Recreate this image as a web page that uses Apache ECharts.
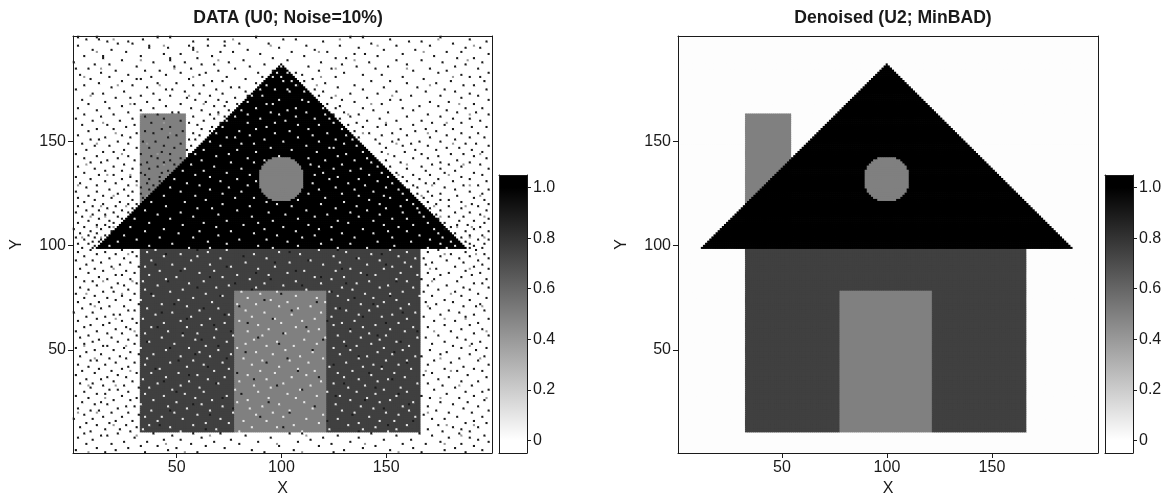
<!DOCTYPE html>
<html><head><meta charset="utf-8">
<style>html,body{margin:0;padding:0;background:#fff}#c{width:1169px;height:493px}</style>
<script src="https://cdn.jsdelivr.net/npm/echarts@6/dist/echarts.min.js"></script>
</head><body><div id="c"></div>
<script>
const titles = ['DATA (U0; Noise=10%)', 'Denoised (U2; MinBAD)'];
const xTicks = [50, 100, 150];
const yTicks = [50, 100, 150];
const barTicks = [0, 0.2, 0.4, 0.6, 0.8, 1.0];
const barLabels = ['0', '0.2', '0.4', '0.6', '0.8', '1.0'];
// [x0, x1, y0, y1, value]
const chimney = [33, 54, 100, 163, 0.5];
const body = [33, 166, 11, 98, 0.75];
const door = [78, 121, 11, 78, 0.5];
// [y, x0, x1]
const roofRows = [[99,12,188],[100,13,187],[101,14,186],[102,15,185],[103,16,184],[104,17,183],[105,18,182],[106,19,181],[107,20,180],[108,21,179],[109,22,178],[110,23,177],[111,24,176],[112,25,175],[113,26,174],[114,27,173],[115,28,172],[116,29,171],[117,30,170],[118,31,169],[119,32,168],[120,33,167],[121,34,166],[122,35,165],[123,36,164],[124,37,163],[125,38,162],[126,39,161],[127,40,160],[128,41,159],[129,42,158],[130,43,157],[131,44,156],[132,45,155],[133,46,154],[134,47,153],[135,48,152],[136,49,151],[137,50,150],[138,51,149],[139,52,148],[140,53,147],[141,54,146],[142,55,145],[143,56,144],[144,57,143],[145,58,142],[146,59,141],[147,60,140],[148,61,139],[149,62,138],[150,63,137],[151,64,136],[152,65,135],[153,66,134],[154,67,133],[155,68,132],[156,69,131],[157,70,130],[158,71,129],[159,72,128],[160,73,127],[161,74,126],[162,75,125],[163,76,124],[164,77,123],[165,78,122],[166,79,121],[167,80,120],[168,81,119],[169,82,118],[170,83,117],[171,84,116],[172,85,115],[173,86,114],[174,87,113],[175,88,112],[176,89,111],[177,90,110],[178,91,109],[179,92,108],[180,93,107],[181,94,106],[182,95,105],[183,96,104],[184,97,103],[185,98,102],[186,99,101],[187,100,100]];
const windowRows = [[122,96,104],[123,94,106],[124,93,107],[125,92,108],[126,91,109],[127,91,109],[128,90,110],[129,90,110],[130,90,110],[131,90,110],[132,90,110],[133,90,110],[134,90,110],[135,90,110],[136,90,110],[137,91,109],[138,91,109],[139,92,108],[140,93,107],[141,94,106],[142,96,104]];
const roofValue = 1, windowValue = 0.5, bgData = 0, bgDenoised = 0.008;
const darkValue = 0.9, midValue = 0.4, lightValue = 0.1;
// noise specks: [y, [x, ...]]
const darkSpecks = [[200,[3,12,41,47,88,133,139,176]],[199,[7,13,34,65,101,107,152,190]],[198,[17,27,58,73,120,161,167,198]],[197,[22,29,80,94,143,182]],[196,[3,37,56,65,73,112,128,155,171]],[195,[37,46,58,99,137,188,195]],[194,[10,19,58,84,116,149,164]],[193,[26,71,77,105,122,179,186]],[192,[44,52,90,135,140,158,199]],[191,[6,15,33,67,111,146,173]],[190,[15,47,60,96,126,131,184,192]],[189,[24,47,82,103,155,167]],[188,[1,39,54,75,119,142,177,196]],[187,[11,18,62,68,92,129,160,188]],[186,[31,49,85,113,136,151,183]],[185,[2,8,57,78,124,145,171,194]],[184,[21,35,42,70,96,118,163,179]],[183,[14,52,64,89,107,130,175,199]],[182,[4,27,45,61,110,139,148,186]],[181,[18,38,74,91,126,158,190,195]],[180,[9,31,33,56,83,115,168]],[179,[24,67,72,111,143,152,181,197]],[178,[13,41,50,88,121,160,174]],[177,[6,29,58,63,108,135,187,192]],[176,[19,36,76,80,127,149,165]],[175,[2,45,48,69,116,139,178,198]],[174,[25,54,83,120,155,169,183]],[173,[10,15,39,61,72,133,146,190]],[172,[33,47,66,84,118,162,176,194]],[171,[21,28,55,78,124,141,186]],[170,[5,42,59,70,129,152,157,199]],[169,[16,36,64,74,118,135,171,180]],[168,[8,30,52,79,122,148,192]],[167,[24,45,68,73,128,166,175]],[166,[3,18,39,57,126,139,158,188,196]],[165,[12,33,62,75,144,163,179]],[164,[27,48,51,70,130,151,184,193]],[163,[6,20,41,66,125,137,170,199]],[162,[14,35,58,73,133,160,176]],[161,[2,29,44,68,128,147,182,190]],[160,[10,23,52,63,141,155,167,195]],[159,[38,56,71,136,172,186]],[158,[5,17,30,60,132,150,163,178]],[157,[26,47,67,139,146,191,198]],[156,[12,20,43,62,157,169,182]],[155,[8,35,53,66,135,164,174]],[154,[31,39,58,142,153,186,194]],[153,[3,24,50,61,148,160,179]],[152,[16,28,46,137,171,190,197]],[151,[9,13,56,59,145,156,183]],[150,[22,34,40,153,166,176]],[149,[5,27,52,147,162,188,193]],[148,[11,18,44,57,158,170,199]],[147,[31,37,49,150,179,185]],[146,[7,25,55,164,174,191]],[145,[15,20,43,148,159,196]],[144,[2,33,47,56,167,181,187]],[143,[12,27,38,154,175,192]],[142,[6,22,41,52,163,170,198]],[141,[17,30,47,150,184]],[140,[9,14,36,44,157,176,190]],[139,[25,33,49,172,180,195]],[138,[3,20,41,152,167,186]],[137,[11,29,37,160,176,199]],[136,[16,24,46,169,183]],[135,[6,33,43,155,178,192]],[134,[13,20,35,163,171,196]],[133,[2,28,42,158,186]],[132,[9,24,37,166,175,190]],[131,[16,31,42,160,182,198]],[130,[4,21,36,169,173]],[129,[12,27,39,163,187,194]],[128,[7,33,165,178]],[127,[18,25,37,161,183,199]],[126,[2,12,29,170,190]],[125,[22,33,165,176,196]],[124,[8,15,27,172,184]],[123,[3,19,34,168,192]],[122,[11,29,176,180,197]],[121,[6,23,170,186]],[120,[15,27,31,174,191,199]],[119,[3,10,21,180,194]],[118,[17,29,171,186]],[117,[7,13,24,176,198]],[116,[2,20,27,183,190]],[115,[10,16,174,195]],[114,[5,22,180,187]],[113,[13,24,175,199]],[112,[8,18,185,192]],[111,[3,20,178,197]],[110,[12,16,184,189]],[109,[6,18,181,195]],[108,[1,14,178,192]],[107,[9,19,188,199]],[106,[4,12,183]],[105,[8,16,190,196]],[104,[2,11,186]],[103,[6,14,194,199]],[102,[10,13,188]],[101,[3,8,190,197]],[100,[11,192]],[99,[5,10,190,196]],
[98,[9,24,60,127,175,193]],[97,[3,16,29,104,170,188]],[96,[12,21,45,148,181,197]],[95,[6,31,82,176,190]],[94,[18,25,136,168,185,199]],[93,[2,10,57,113,179,194]],[92,[14,28,97,172,187]],[91,[7,23,40,150,169,196]],[90,[19,32,74,183,192]],[89,[4,11,129,174,199]],[88,[15,26,52,107,188]],[87,[8,30,88,170,180,195]],[86,[21,24,141,176,191]],[85,[2,13,66,119,186]],[84,[17,28,95,167,173,198]],[83,[6,10,46,155,184]],[82,[22,31,78,131,192,196]],[81,[12,25,110,170,179]],[80,[4,19,60,147,187,199]],[79,[8,27,86,175,190]],[78,[15,20,124,168,183]],[77,[2,30,38,100,194]],[76,[11,24,71,152,172,186]],[75,[6,17,58,135,198]],[74,[21,28,92,178,190]],[73,[3,13,117,169,182]],[72,[9,32,49,144,174,195]],[71,[18,25,80,187,193]],[70,[5,14,63,128,171]],[69,[27,30,105,180,197]],[68,[1,10,43,158,185]],[67,[20,23,73,176,192]],[66,[7,16,139,168,188]],[65,[12,29,55,96,199]],[64,[3,24,122,173,183]],[63,[18,31,84,150,194]],[62,[9,15,68,178,190]],[61,[6,26,41,112,170]],[60,[21,28,133,186,196]],[59,[2,12,76,165,181]],[58,[17,24,53,101,192]],[57,[8,31,146,175,199]],[56,[4,19,89,169,184]],[55,[13,27,62,120,188]],[54,[10,22,36,157,178,195]],[53,[6,30,99,172,191]],[52,[15,17,70,131,182]],[51,[2,25,47,186,198]],[50,[11,20,115,171,193]],[49,[7,28,83,154,179]],[48,[14,32,59,176,190]],[47,[4,23,137,167,197]],[46,[18,26,74,103,185]],[45,[9,12,51,173,194]],[44,[21,30,93,160,181]],[43,[3,16,125,170,199]],[42,[8,27,65,148,187]],[41,[13,24,40,178,192]],[40,[5,19,108,184,196]],[39,[11,31,79,142,172]],[38,[2,22,56,168,189]],[37,[17,26,118,180,198]],[36,[7,14,87,153,175]],[35,[20,29,44,186,194]],[34,[4,10,69,130,170]],[33,[15,25,98,177,191]],[32,[9,32,61,145,183]],[31,[18,22,110,173,199]],[30,[6,27,50,188,196]],[29,[12,16,81,156,179]],[28,[2,24,126,167,192]],[27,[8,31,72,171,185]],[26,[20,28,39,140,197]],[25,[5,14,94,176,189]],[24,[11,17,58,161,182]],[23,[26,30,116,170,194]],[22,[3,22,77,149,187]],[21,[9,13,47,174,199]],[20,[19,27,104,180,191]],[19,[6,32,66,134,168]],[18,[15,24,90,184,196]],[17,[1,10,53,172,178]],[16,[21,29,122,163,192]],[15,[7,18,75,188,198]],[14,[12,26,42,151,175]],[13,[4,31,101,182,194]],[12,[16,23,64,170,186]],[11,[9,28,137,177,190]],
[10,[6,22,39,58,71,104,110,143,166,185]],[9,[14,17,48,83,127,155,172,197]],[8,[3,30,62,95,120,137,180,190]],[7,[10,44,52,76,114,149,162,194]],[6,[25,36,68,89,108,133,176,199]],[5,[7,19,57,80,124,158,169,186]],[4,[33,41,64,99,118,145,192]],[3,[12,27,50,73,139,163,183]],[2,[2,21,46,86,106,130,152,178,196]],[1,[16,35,60,92,125,167,188]]];
const midSpecks = [[199,[20,77,128,175]],[196,[44,95,146,192]],[193,[12,60,118,168]],[189,[33,70,135,189]],[185,[14,49,126,160]],[181,[6,58,119,182]],[177,[22,42,117,171]],[172,[9,56,126,153]],[168,[28,63,143,185]],[163,[33,70,132,190]],[159,[15,44,150,179]],[154,[21,47,139,170]],[149,[12,36,155,182]],[144,[24,41,151,195]],[139,[7,44,160,187]],[134,[17,28,156,180]],[129,[3,31,172,190]],[124,[20,36,167,195]],[119,[14,26,173,188]],[114,[9,16,176,197]],[109,[12,20,184,191]],[104,[5,14,190,197]],[96,[27,178,193]],[89,[20,171,190]],[83,[15,29,172]],[77,[7,24,181]],[71,[11,170,196]],[65,[21,178,188]],[59,[30,173,198]],[52,[6,26,190]],[46,[11,176,195]],[40,[28,169,181]],[33,[8,21,185]],[27,[16,176,198]],[20,[3,12,170]],[14,[20,179,192]],[9,[31,66,112,186]],[5,[45,98,140,178]],[1,[8,54,110,156]]];
const lightSpecks = [[186,[100]],[183,[98,103]],[181,[96,100]],[179,[101,105]],[177,[93,107]],[175,[90,97,103]],[174,[104,111]],[172,[86,91]],[170,[99,110]],[169,[84,113]],[168,[93,96]],[166,[88,107,120]],[165,[81,103]],[164,[95,112]],[163,[84,99,121]],[162,[78,107]],[161,[90,116,123]],[160,[74,102]],[159,[84,97,125]],[158,[108,118]],[157,[72,93]],[156,[88,113,129]],[155,[80,104]],[154,[69,97,122]],[153,[85,115,131]],[152,[74,78,108]],[151,[92,126,134]],[150,[66,101,118]],[149,[81,87,130]],[148,[71,112,136]],[147,[95,123,125]],[146,[63,79,105]],[145,[88,117,139]],[144,[59,75,131]],[143,[69,99,127]],[142,[84,113,141]],[141,[62,92,121,135]],[140,[76,87,143]],[139,[57,114,129]],[138,[68,118,146]],[137,[81,125,138]],[136,[53,63,133]],[135,[74,120,148]],[134,[59,85,116,142]],[133,[66,127,151]],[132,[49,79,123,137]],[131,[71,88,146]],[130,[55,115,132,153]],[129,[61,84,140]],[128,[47,75,126,150]],[127,[66,118,135,156]],[126,[52,81,144]],[125,[72,113,129,158]],[124,[44,59,137,149]],[123,[78,87,121,152]],[122,[64,108,142,160]],[121,[38,54,93,130]],[120,[72,98,119,147,163]],[119,[45,85,105,136,157]],[118,[60,67,126,150,165]],[117,[35,79,112,141]],[116,[52,94,133,158,166]],[115,[41,70,102,122,147]],[114,[58,86,116,137,168]],[113,[30,47,108,153,160]],[112,[74,96,127,144]],[111,[37,63,89,132,170]],[110,[53,82,113,149,163]],[109,[28,69,101,124,156]],[108,[44,92,118,139,173]],[107,[35,61,76,107,151,160]],[106,[51,87,129,144,175]],[105,[25,70,98,116,166]],[104,[42,58,110,135,153,177]],[103,[31,80,93,124,171]],[102,[22,65,103,146,162,181]],[101,[48,74,119,133,176]],[100,[18,37,89,108,154,183]],[99,[56,66,96,127,141,170,179]],
[98,[40,74,118,152]],[97,[36,65,99,131,160]],[96,[52,87,109,143]],[95,[44,60,125,156]],[94,[71,93,137,164]],[93,[38,57,114,147]],[92,[83,104,128,159]],[91,[48,66,120,141]],[90,[35,76,97,153,162]],[89,[54,89,133,149]],[88,[42,68,111,126]],[87,[61,103,138,157]],[86,[37,79,94,145,165]],[85,[50,72,116,130]],[84,[45,85,124,155]],[83,[34,63,107,142,160]],[82,[56,92,119,136]],[81,[41,75,101,151]],[80,[69,88,129,147,163]],[79,[35,53,112,134]],[78,[47,81,98,123,158]],[77,[64,90,140,152]],[76,[39,72,107,127,166]],[75,[58,84,117,144]],[74,[33,51,95,132,155]],[73,[67,103,121,149]],[72,[43,79,88,138,161]],[71,[55,99,114,146]],[70,[36,70,108,126,157]],[69,[61,83,131,142]],[68,[48,92,119,164]],[67,[40,75,105,137,153]],[66,[57,86,124,148]],[65,[34,66,97,116,160]],[64,[52,80,110,135]],[63,[44,73,100,129,156]],[62,[62,89,125,145]],[61,[38,55,107,139,163]],[60,[69,94,118,152]],[59,[46,84,113,133,159]],[58,[35,60,102,142]],[57,[53,77,91,127,150]],[56,[43,68,121,138,165]],[55,[59,87,111,147]],[54,[37,74,98,130,155]],[53,[49,83,117,143]],[52,[64,93,106,136,161]],[51,[33,56,79,125,149]],[50,[45,70,102,133,158]],[49,[61,88,115,146]],[48,[39,76,96,128,153]],[47,[52,66,109,141,164]],[46,[36,82,120,137]],[45,[58,91,104,150,160]],[44,[47,72,113,131]],[43,[35,63,86,144,156]],[42,[55,99,123,139]],[41,[42,75,108,148,162]],[40,[68,90,116,134]],[39,[38,51,97,127,154]],[38,[60,84,112,143]],[37,[45,73,105,130,159]],[36,[34,65,93,137,151]],[35,[56,80,119,146]],[34,[41,70,101,125,165]],[33,[52,87,114,140]],[32,[37,61,95,132,157]],[31,[48,78,109,149]],[30,[63,89,122,136,160]],[29,[35,54,103,145]],[28,[44,74,117,128,155]],[27,[59,94,107,141]],[26,[39,67,84,133,152]],[25,[50,79,111,147,163]],[24,[33,62,99,126]],[23,[46,72,91,138,158]],[22,[55,85,115,144]],[21,[38,66,104,129,161]],[20,[49,77,96,135,150]],[19,[60,88,120,156]],[18,[35,43,101,142,164]],[17,[53,71,112,127]],[16,[41,82,93,147,154]],[15,[64,75,118,137]],[14,[37,58,106,132,160]],[13,[47,86,98,145]],[12,[34,69,123,139,155]],[11,[52,80,110,151]]];
const barRange = [-0.05, 1.05];
const barGrays = [[0, '#ffffff'], [1, '#000000']];

const cats = Array.from({length: 200}, (_, i) => String(i + 1));
const blocks = (bg) => [[1, 200, 1, 200, bg], chimney, body, door]
  .concat(roofRows.map(([y, a, b]) => [a, b, y, y, roofValue]))
  .concat(windowRows.map(([y, a, b]) => [a, b, y, y, windowValue]));
function buildCells(bg, noisy) {
  const m = cats.map(() => cats.map(() => bg));
  const put = (x, y, v) => { m[y - 1][x - 1] = v; };
  for (const [x0, x1, y0, y1, v] of blocks(bg))
    for (let y = y0; y <= y1; y++) for (let x = x0; x <= x1; x++) put(x, y, v);
  if (noisy) {
    for (const [y, xs] of darkSpecks) xs.forEach(x => put(x, y, darkValue));
    for (const [y, xs] of midSpecks) xs.forEach(x => put(x, y, midValue));
    for (const [y, xs] of lightSpecks) xs.forEach(x => put(x, y, lightValue));
  }
  const out = [];
  m.forEach((row, j) => row.forEach((v, i) => out.push([i, j, v])));
  return out;
}
const ink = '#1a1a1a';
const font = {fontFamily: 'Liberation Sans, Arial, sans-serif', fontSize: 16, color: ink};
const grids = [
  {left: 73, top: 36, width: 419, height: 417, outerBoundsMode: 'none'},
  {left: 678, top: 36, width: 420, height: 417, outerBoundsMode: 'none'},
  {left: 499, top: 175, width: 28, height: 278, outerBoundsMode: 'none'},
  {left: 1105, top: 175, width: 28, height: 278, outerBoundsMode: 'none'}
];
const edge = {show: true, onZero: false, lineStyle: {color: ink, width: 1}};
const tickOn = (list) => (i, v) => list.includes(+v);
function catX(g) { return {type: 'category', gridIndex: g, data: cats, z: 5, boundaryGap: true, name: 'X', nameLocation: 'middle', nameGap: 25, nameTextStyle: font, axisLine: edge,
  axisTick: {show: true, alignWithLabel: true, interval: tickOn(xTicks), length: 5, lineStyle: {color: ink}}, axisLabel: {...font, interval: tickOn(xTicks), margin: 7}}; }
function catY(g) { return {type: 'category', gridIndex: g, data: cats, z: 5, boundaryGap: true, name: 'Y', nameLocation: 'middle', nameGap: 48, nameRotate: 90, nameTextStyle: font, axisLine: edge,
  axisTick: {show: true, alignWithLabel: true, interval: tickOn(yTicks), length: 5, lineStyle: {color: ink}}, axisLabel: {...font, interval: tickOn(yTicks), margin: 7}}; }
function frameX(g) { return {type: 'category', gridIndex: g, data: cats, position: 'top', z: 5, axisLine: edge, axisTick: {show: false}, axisLabel: {show: false}}; }
function frameY(g) { return {type: 'category', gridIndex: g, data: cats, position: 'right', z: 5, axisLine: edge, axisTick: {show: false}, axisLabel: {show: false}}; }
function barX(g) { return {type: 'value', gridIndex: g, min: 0, max: 1, z: 5, axisLine: edge, axisTick: {show: false}, axisLabel: {show: false}, splitLine: {show: false}}; }
function barXTop(g) { return {...barX(g), position: 'top'}; }
function barY(g) { return {type: 'value', gridIndex: g, min: barRange[0], max: barRange[1], position: 'right', z: 5, axisLine: edge, splitLine: {show: false},
  axisTick: {show: true, length: 4, customValues: barTicks, lineStyle: {color: ink}},
  axisLabel: {...font, margin: 6, customValues: barTicks, formatter: v => barLabels[barTicks.findIndex(t => Math.abs(t - v) < 1e-6)]}}; }
function barYLeft(g) { return {type: 'value', gridIndex: g, min: barRange[0], max: barRange[1], position: 'left', z: 5, axisLine: edge, axisTick: {show: false}, axisLabel: {show: false}, splitLine: {show: false}}; }
function barSeries(xi, yi) { return {type: 'custom', xAxisIndex: xi, yAxisIndex: yi, silent: true, animation: false, data: [[barRange[0], barRange[1]]], encode: {y: [0, 1]},
  renderItem(p, api) {
    const a = api.coord([0, api.value(0)]), b = api.coord([1, api.value(1)]);
    const span = barRange[1] - barRange[0];
    const stops = barGrays.map(([v, c]) => ({offset: (v - barRange[0]) / span, color: c}));
    return {type: 'rect', shape: {x: a[0], y: b[1], width: b[0] - a[0], height: a[1] - b[1]},
      style: {fill: new echarts.graphic.LinearGradient(0, 1, 0, 0, stops)}};
  }}; }
function backing(xi, yi, bg) {
  const list = blocks(bg);
  return {type: 'custom', xAxisIndex: xi, yAxisIndex: yi, z: 1, silent: true, animation: false, data: list, encode: {x: [0, 1], y: [2, 3]},
    renderItem(p, api) {
      const [x0, x1, y0, y1, v] = list[p.dataIndex];
      const s = api.size([1, 1]);
      const a = api.coord([x0 - 1, y1 - 1]), b = api.coord([x1 - 1, y0 - 1]);
      const g = Math.round(255 * (1 - v));
      return {type: 'rect', shape: {x: a[0] - s[0] / 2, y: a[1] - s[1] / 2, width: b[0] - a[0] + s[0], height: b[1] - a[1] + s[1]}, style: {fill: `rgb(${g},${g},${g})`}};
    }};
}
const chart = echarts.init(document.getElementById('c'), null, {renderer: 'canvas'});
chart.setOption({
  animation: false, backgroundColor: '#fff',
  title: titles.map((t, i) => ({text: t, left: i ? 888 : 283, top: 4, textAlign: 'center', textStyle: {fontFamily: 'Liberation Sans, Arial, sans-serif', fontSize: 17.6, fontWeight: 'bold', color: ink}})),
  grid: grids,
  xAxis: [catX(0), frameX(0), catX(1), frameX(1), barX(2), barXTop(2), barX(3), barXTop(3)],
  yAxis: [catY(0), frameY(0), catY(1), frameY(1), barY(2), barYLeft(2), barY(3), barYLeft(3)],
  visualMap: {show: false, type: 'continuous', min: 0, max: 1, seriesIndex: [0, 1], inRange: {color: ['#ffffff', '#000000']}},
  series: [
    {type: 'heatmap', xAxisIndex: 0, yAxisIndex: 0, z: 2, data: buildCells(bgData, true), progressive: 0, silent: true, animation: false},
    {type: 'heatmap', xAxisIndex: 2, yAxisIndex: 2, z: 2, data: buildCells(bgDenoised, false), progressive: 0, silent: true, animation: false},
    barSeries(4, 4), barSeries(6, 6),
    backing(0, 0, bgData), backing(2, 2, bgDenoised)
  ]
});
</script></body></html>
